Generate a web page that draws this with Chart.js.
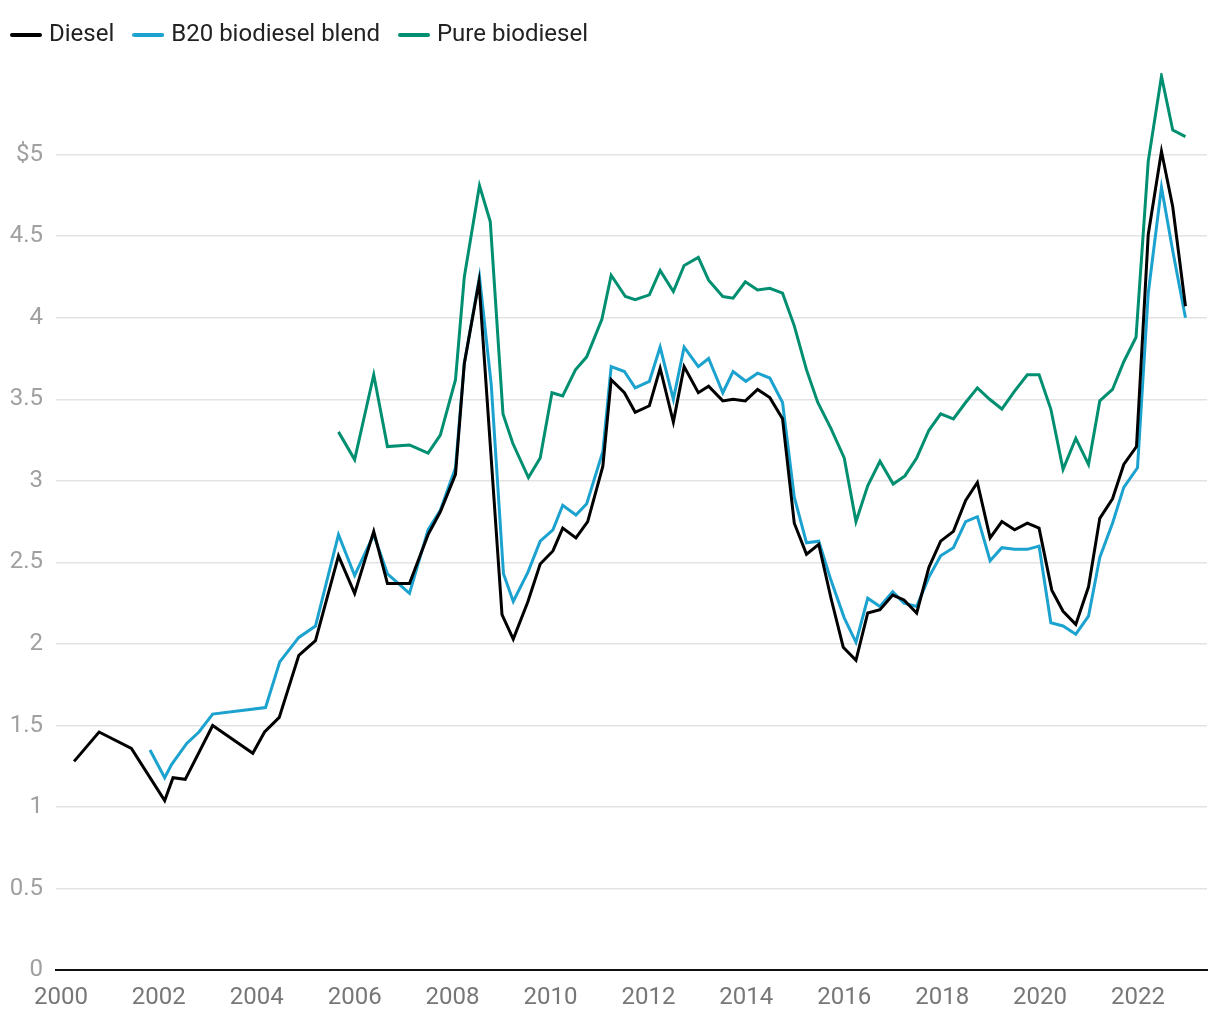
<!DOCTYPE html>
<html>
<head>
<meta charset="utf-8">
<script src="https://cdn.jsdelivr.net/npm/chart.js@4.4.0/dist/chart.umd.min.js"></script>
<style>
  html, body { margin: 0; padding: 0; background: #ffffff; }
  #wrap { width: 1220px; height: 1020px; }
</style>
</head>
<body>
<div id="wrap"><canvas id="c" width="1220" height="1020"></canvas></div>
<script>
const seriesNames = ['Diesel', 'B20 biodiesel blend', 'Pure biodiesel'];
const seriesColors = ['#000000', '#1ba2cf', '#008f70'];

const dieselDates = [2000.27,2000.78,2001.44,2002.12,2002.29,2002.54,2003.10,2003.92,2004.16,2004.46,2004.86,2005.20,2005.67,2006.00,2006.39,2006.67,2007.12,2007.50,2007.75,2008.06,2008.24,2008.54,2009.01,2009.24,2009.54,2009.79,2010.05,2010.25,2010.52,2010.76,2011.07,2011.24,2011.51,2011.73,2012.02,2012.24,2012.51,2012.73,2013.02,2013.23,2013.52,2013.73,2013.98,2014.23,2014.48,2014.74,2014.98,2015.23,2015.48,2015.73,2015.98,2016.24,2016.48,2016.73,2016.99,2017.22,2017.48,2017.73,2017.97,2018.23,2018.48,2018.72,2018.98,2019.22,2019.48,2019.74,2019.98,2020.24,2020.47,2020.73,2020.99,2021.22,2021.48,2021.71,2021.97,2022.21,2022.48,2022.71,2022.97];
const dieselPrices = [1.28,1.46,1.36,1.04,1.18,1.17,1.50,1.33,1.46,1.55,1.93,2.02,2.54,2.31,2.69,2.37,2.37,2.67,2.81,3.04,3.72,4.22,2.18,2.03,2.26,2.49,2.57,2.71,2.65,2.75,3.09,3.62,3.54,3.42,3.46,3.69,3.36,3.70,3.54,3.58,3.49,3.50,3.49,3.56,3.51,3.38,2.74,2.55,2.61,2.28,1.98,1.90,2.19,2.21,2.30,2.27,2.19,2.47,2.63,2.69,2.88,2.99,2.65,2.75,2.70,2.74,2.71,2.33,2.20,2.12,2.35,2.77,2.89,3.10,3.21,4.51,5.02,4.68,4.07];

const b20Dates = [2001.82,2002.12,2002.26,2002.57,2002.82,2003.10,2004.18,2004.47,2004.86,2005.20,2005.67,2006.00,2006.39,2006.67,2007.12,2007.50,2007.75,2008.06,2008.24,2008.55,2008.79,2009.04,2009.24,2009.54,2009.79,2010.05,2010.25,2010.52,2010.74,2011.07,2011.24,2011.51,2011.73,2012.02,2012.24,2012.51,2012.73,2013.02,2013.23,2013.52,2013.73,2013.99,2014.23,2014.48,2014.74,2014.98,2015.23,2015.48,2015.73,2016.00,2016.24,2016.48,2016.73,2016.99,2017.22,2017.48,2017.73,2017.97,2018.23,2018.48,2018.72,2018.98,2019.22,2019.48,2019.74,2019.98,2020.22,2020.47,2020.73,2020.99,2021.22,2021.48,2021.71,2021.99,2022.21,2022.48,2022.71,2022.97];
const b20Prices = [1.35,1.18,1.26,1.39,1.46,1.57,1.61,1.89,2.04,2.11,2.67,2.42,2.67,2.43,2.31,2.70,2.82,3.08,3.72,4.25,3.59,2.43,2.26,2.44,2.63,2.70,2.85,2.79,2.86,3.18,3.70,3.67,3.57,3.61,3.82,3.50,3.82,3.70,3.75,3.54,3.67,3.61,3.66,3.63,3.48,2.90,2.62,2.63,2.39,2.16,2.01,2.28,2.23,2.32,2.25,2.23,2.41,2.54,2.59,2.75,2.78,2.51,2.59,2.58,2.58,2.60,2.13,2.11,2.06,2.17,2.53,2.74,2.96,3.08,4.15,4.80,4.41,4.00];

const pureDates = [2005.67,2006.00,2006.39,2006.67,2007.12,2007.50,2007.75,2008.06,2008.24,2008.55,2008.77,2009.03,2009.23,2009.55,2009.79,2010.03,2010.25,2010.51,2010.74,2011.05,2011.24,2011.53,2011.73,2012.02,2012.24,2012.51,2012.73,2013.02,2013.23,2013.52,2013.73,2013.98,2014.23,2014.48,2014.74,2014.98,2015.23,2015.46,2015.73,2016.00,2016.24,2016.48,2016.73,2017.00,2017.24,2017.48,2017.73,2017.97,2018.23,2018.48,2018.72,2018.97,2019.22,2019.48,2019.74,2019.98,2020.22,2020.47,2020.73,2020.99,2021.22,2021.48,2021.71,2021.96,2022.21,2022.48,2022.71,2022.97];
const purePrices = [3.30,3.13,3.65,3.21,3.22,3.17,3.28,3.62,4.25,4.81,4.59,3.41,3.23,3.02,3.14,3.54,3.52,3.68,3.76,3.99,4.26,4.13,4.11,4.14,4.29,4.16,4.32,4.37,4.23,4.13,4.12,4.22,4.17,4.18,4.15,3.95,3.68,3.48,3.32,3.14,2.75,2.97,3.12,2.98,3.03,3.14,3.31,3.41,3.38,3.48,3.57,3.50,3.44,3.55,3.65,3.65,3.44,3.07,3.26,3.10,3.49,3.56,3.73,3.88,4.96,5.48,5.15,5.11];

const xTickValues = [2000,2002,2004,2006,2008,2010,2012,2014,2016,2018,2020,2022];
const yTickValues = [0,0.5,1,1.5,2,2.5,3,3.5,4,4.5,5];

function toPoints(dates, values) {
  return dates.map((d, i) => ({ x: d, y: values[i] }));
}

function legendSwatch(color) {
  const cv = document.createElement('canvas');
  cv.width = 32; cv.height = 6;
  const g = cv.getContext('2d');
  g.strokeStyle = color;
  g.lineWidth = 4;
  g.lineCap = 'round';
  g.beginPath();
  g.moveTo(2, 3);
  g.lineTo(30, 3);
  g.stroke();
  return cv;
}

const allDates = [dieselDates, b20Dates, pureDates];
const allValues = [dieselPrices, b20Prices, purePrices];

const datasets = seriesNames.map((name, i) => ({
  label: name,
  data: toPoints(allDates[i], allValues[i]),
  borderColor: seriesColors[i],
  backgroundColor: seriesColors[i],
  borderWidth: 3,
  pointRadius: 0,
  pointHoverRadius: 0,
  tension: 0,
  fill: false,
  order: i
}));

const legendMargin = {
  id: 'legendMargin',
  beforeInit(chart) {
    const origFit = chart.legend.fit;
    chart.legend.fit = function () {
      origFit.bind(chart.legend)();
      this.height += 16;
    };
  }
};

Chart.defaults.font.family = 'Roboto, "Noto Sans", sans-serif';

new Chart(document.getElementById('c'), {
  type: 'line',
  data: { datasets },
  plugins: [legendMargin],
  options: {
    responsive: false,
    animation: false,
    layout: { padding: { top: 0, left: -8, right: 13, bottom: -5 } },
    plugins: {
      tooltip: { enabled: false },
      legend: {
        position: 'top',
        align: 'start',
        labels: {
          usePointStyle: true,
          pointStyleWidth: 22,
          padding: 23,
          color: '#222222',
          font: { size: 24 },
          generateLabels(chart) {
            return chart.data.datasets.map((ds, i) => ({
              text: ds.label,
              fillStyle: ds.borderColor,
              strokeStyle: ds.borderColor,
              lineWidth: 0,
              pointStyle: legendSwatch(ds.borderColor),
              hidden: false,
              datasetIndex: i,
              fontColor: '#222222'
            }));
          }
        }
      }
    },
    scales: {
      x: {
        type: 'linear',
        min: 1999.9,
        max: 2023.41,
        afterBuildTicks(axis) {
          axis.ticks = xTickValues.map(v => ({ value: v }));
        },
        grid: { display: false, drawTicks: false },
        border: { display: true, color: '#111111', width: 2 },
        ticks: {
          padding: 13,
          color: '#777777',
          font: { size: 24 },
          maxRotation: 0,
          autoSkip: false,
          callback: v => String(v)
        }
      },
      y: {
        type: 'linear',
        min: 0,
        max: 5.5,
        afterBuildTicks(axis) {
          axis.ticks = yTickValues.map(v => ({ value: v }));
        },
        afterFit(axis) { axis.width = 64; },
        grid: {
          drawTicks: false,
          lineWidth: 1.5,
          color: ctx => (ctx.tick && ctx.tick.value === 0) ? 'rgba(0,0,0,0)' : '#e3e3e3'
        },
        border: { display: false },
        ticks: {
          padding: 13,
          color: '#a0a0a0',
          font: { size: 24 },
          callback: v => v === 5 ? '$5' : String(v)
        }
      }
    }
  }
});
</script>
</body>
</html>
